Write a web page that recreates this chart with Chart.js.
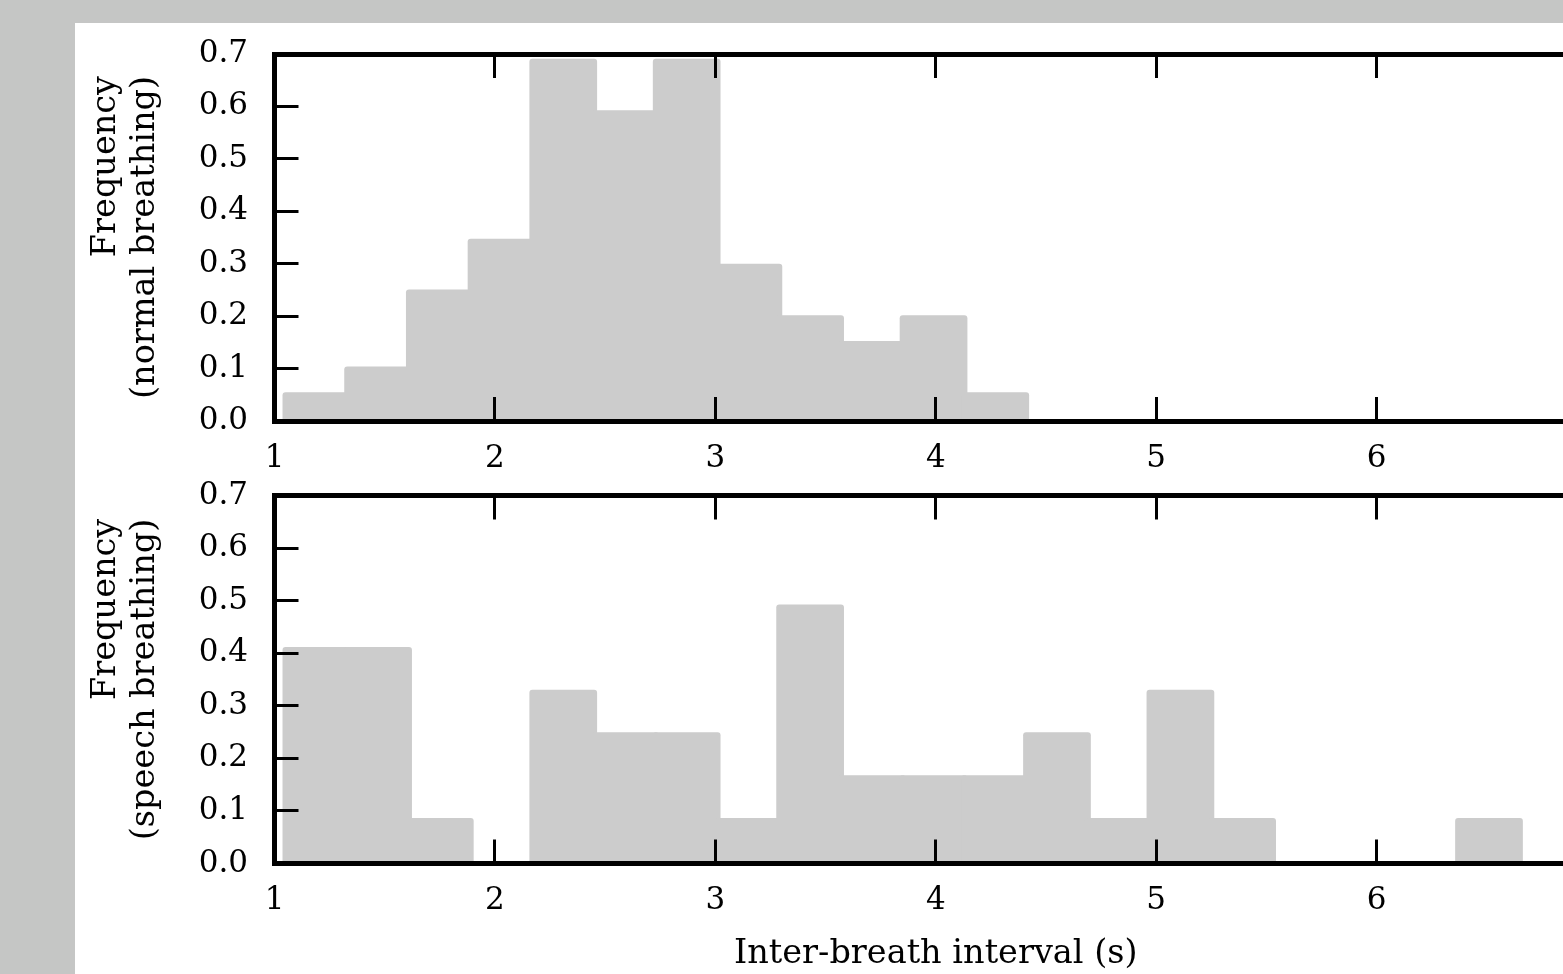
<!DOCTYPE html>
<html>
<head>
<meta charset="utf-8">
<title>Inter-breath interval histograms</title>
<script src="https://cdn.jsdelivr.net/npm/chart.js@4.4.1/dist/chart.umd.min.js"></script>
<style>
  html, body { margin: 0; padding: 0; width: 1563px; height: 974px; overflow: hidden; background: #c5c6c5; }
  #panel { position: absolute; left: 75px; top: 23px; width: 1600px; height: 951px; background: #fff; }
  .plot { position: absolute; left: 0; width: 1525px; }
  #top-plot { top: 0; height: 460px; }
  #bottom-plot { top: 447px; height: 504px; }
</style>
</head>
<body>
<div id="panel">
  <div class="plot" id="top-plot"><canvas id="chart-normal"></canvas></div>
  <div class="plot" id="bottom-plot"><canvas id="chart-speech"></canvas></div>
</div>
<script>
// --- datos ---
const binEdges = [1.05, 1.33, 1.61, 1.89, 2.17, 2.45, 2.73, 3.01, 3.29, 3.57, 3.85,
                  4.13, 4.41, 4.69, 4.97, 5.25, 5.53, 5.81, 6.09, 6.37, 6.65];
const normalFreq = [0.049, 0.098, 0.245, 0.342, 0.685, 0.587, 0.685, 0.294, 0.196, 0.147,
                    0.196, 0.049, 0, 0, 0, 0, 0, 0, 0, 0];
const speechFreq = [0.406, 0.406, 0.081, 0, 0.325, 0.244, 0.244, 0.081, 0.487, 0.162,
                    0.162, 0.162, 0.244, 0.081, 0.325, 0.081, 0, 0, 0, 0.081];
const xTicks = [1, 2, 3, 4, 5, 6, 7];
const yTicks = [0, 0.1, 0.2, 0.3, 0.4, 0.5, 0.6, 0.7];
const normalLabel = ['Frequency', '(normal breathing)'];
const speechLabel = ['Frequency', '(speech breathing)'];
const xTitle = 'Inter-breath interval (s)';

const BAR_COLOR = '#cccccc';
const FONT = "'DejaVu Serif', serif";
const TICK_SIZE = 31;
const TITLE_SIZE = 33.5;

Chart.defaults.font.family = FONT;
Chart.defaults.color = '#000';

// Etiqueta Y en dos líneas, alineadas a la derecha (estilo matplotlib)
const yTitlePlugin = {
  id: 'yTitle',
  afterDraw(chart, args, opts) {
    const { ctx, chartArea } = chart;
    ctx.save();
    ctx.font = `${TITLE_SIZE}px ${FONT}`;
    const widest = Math.max(...opts.lines.map(l => ctx.measureText(l).width));
    ctx.translate(opts.x, (chartArea.top + chartArea.bottom) / 2);
    ctx.rotate(-Math.PI / 2);
    ctx.textAlign = 'right';
    ctx.textBaseline = 'middle';
    ctx.fillStyle = '#000';
    opts.lines.forEach((line, i) => {
      ctx.fillText(line, widest / 2, (i - (opts.lines.length - 1) / 2) * opts.gap);
    });
    ctx.restore();
  }
};

const spine = { display: true, color: '#000', width: 5, z: 1 };
const inwardTicks = { offset: false, drawOnChartArea: false, drawTicks: true, tickLength: -24, tickWidth: 3, tickColor: '#000', z: 1 };

const createHistogram = (canvasId, values, label, layout) => {
  const canvas = document.getElementById(canvasId);
  const data = values.map((v, i) => ({ x: (binEdges[i] + binEdges[i + 1]) / 2, y: v > 0 ? v : null }));

  return new Chart(canvas.getContext('2d'), {
    type: 'bar',
    data: {
      datasets: [{
        data: data,
        backgroundColor: BAR_COLOR,
        borderWidth: 0,
        borderRadius: 3,
        borderSkipped: 'start',
        inflateAmount: 3,      // el borde gris de matplotlib sobresale ~3px
        barPercentage: 1,
        categoryPercentage: 1,
        clip: 0
      }]
    },
    options: {
      responsive: true,
      maintainAspectRatio: false,
      animation: false,
      layout: { padding: { top: layout.top, right: 3, bottom: 0, left: 0 } },
      plugins: {
        legend: { display: false },
        tooltip: { enabled: false },
        yTitle: { lines: label, x: 50.5, gap: 39 }
      },
      scales: {
        x: {
          type: 'linear',
          position: 'bottom',
          offset: false,
          min: 1, max: 7,
          afterBuildTicks: s => { s.ticks = xTicks.map(v => ({ value: v })); },
          ticks: { autoSkip: false, maxRotation: 0, padding: 43, font: { size: TICK_SIZE }, color: '#000' },
          grid: inwardTicks,
          border: spine,
          title: {
            display: layout.showTitle,
            text: xTitle,
            font: { size: TITLE_SIZE },
            color: '#000',
            padding: { top: 0, bottom: 0 }
          },
          afterFit: s => { s.height = layout.xHeight; s.paddingLeft = 0; s.paddingRight = 0; }
        },
        xTop: {
          type: 'linear',
          position: 'top',
          offset: false,
          min: 1, max: 7,
          afterBuildTicks: s => { s.ticks = xTicks.map(v => ({ value: v })); },
          ticks: { display: false },
          grid: inwardTicks,
          border: spine,
          afterFit: s => { s.height = 0; s.paddingLeft = 0; s.paddingRight = 0; }
        },
        y: {
          min: 0, max: 0.7,
          afterBuildTicks: s => { s.ticks = yTicks.map(v => ({ value: v })); },
          ticks: { padding: 50.5, font: { size: TICK_SIZE }, color: '#000', callback: v => v.toFixed(1) },
          grid: inwardTicks,
          border: spine,
          afterFit: s => { s.width = 199.5; s.paddingTop = 0; s.paddingBottom = 0; }
        }
      }
    },
    plugins: [yTitlePlugin]
  });
};

createHistogram('chart-normal', normalFreq, normalLabel, { top: 31, xHeight: 62, showTitle: false });
createHistogram('chart-speech', speechFreq, speechLabel, { top: 25.5, xHeight: 110.5, showTitle: true });
</script>
</body>
</html>
